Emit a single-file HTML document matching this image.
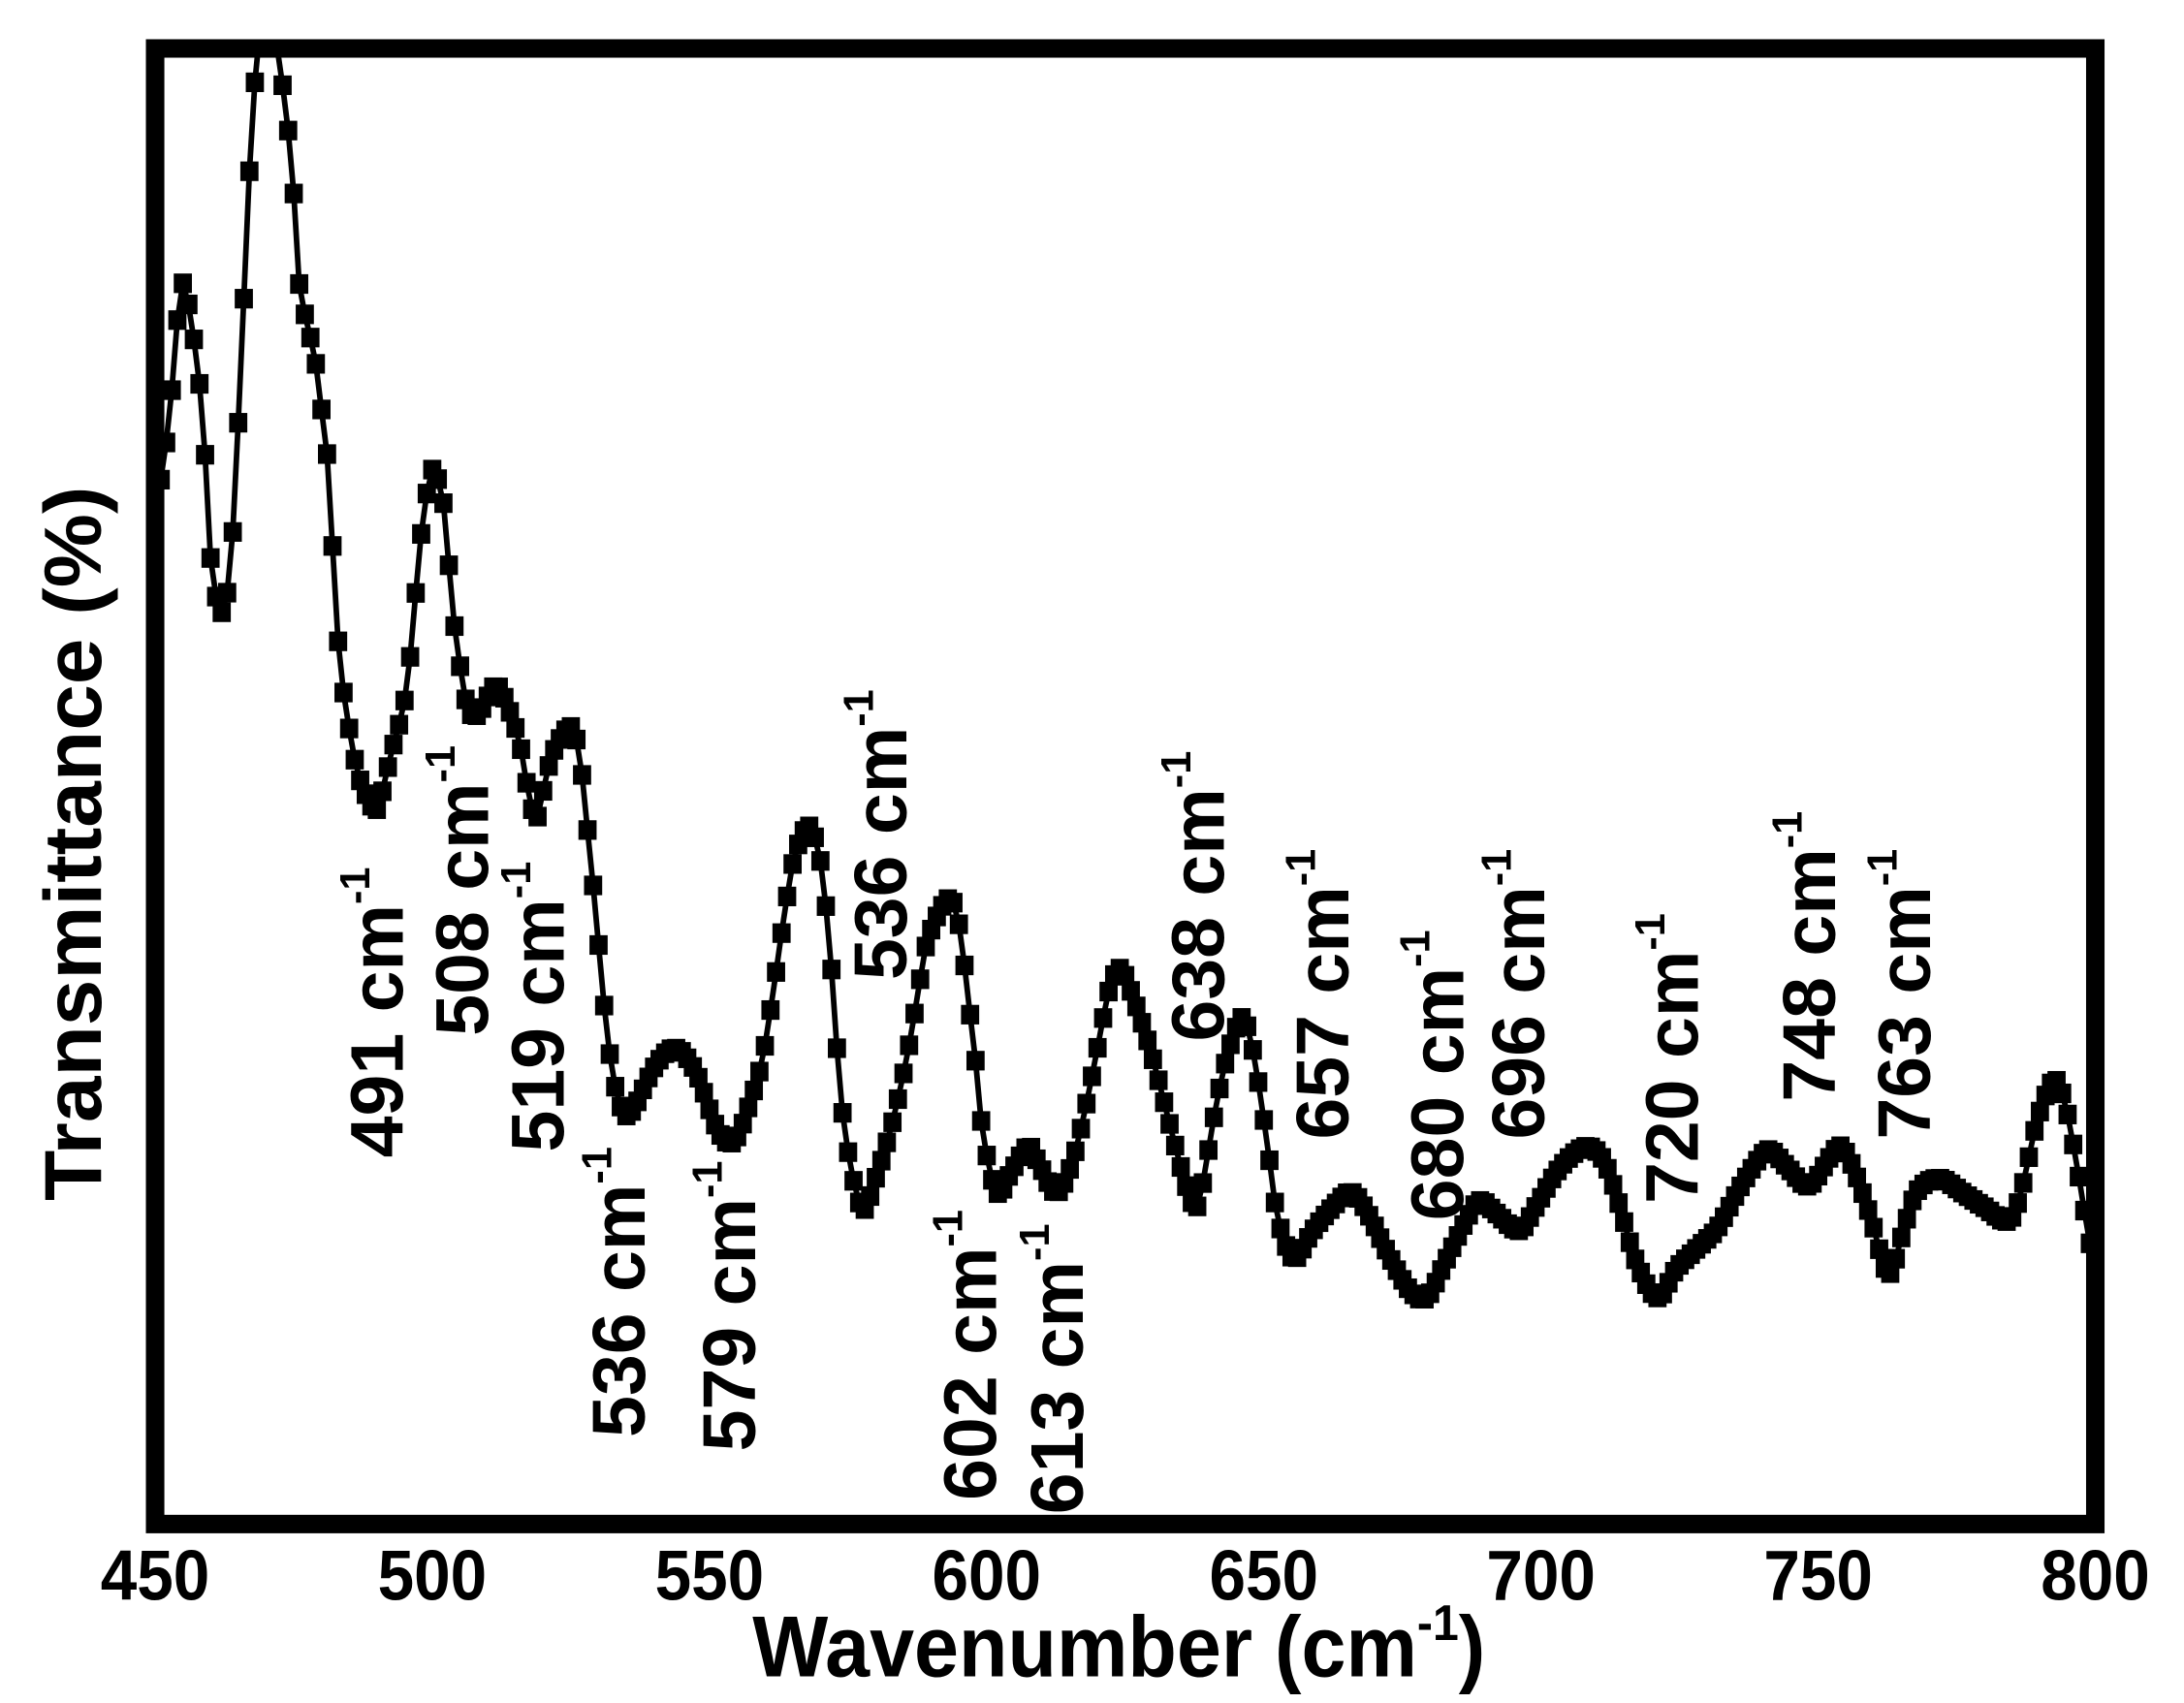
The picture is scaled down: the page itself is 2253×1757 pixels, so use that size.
<!DOCTYPE html>
<html><head><meta charset="utf-8"><style>
html,body{margin:0;padding:0;background:#fff;width:2253px;height:1757px;overflow:hidden;}
svg{display:block;}
text{font-family:"Liberation Sans",Arial,sans-serif;font-weight:bold;fill:#000;}
</style></head><body>
<svg id="s" width="2253" height="1757" viewBox="2.1 7.35 1561.3 1217.6" preserveAspectRatio="none" xmlns="http://www.w3.org/2000/svg">
<defs><clipPath id="c"><rect x="113" y="42" width="1387" height="1055"/></clipPath></defs>
<rect x="0" y="0" width="1600" height="1300" fill="#fff"/>
<g id="data" clip-path="url(#c)"></g>
<rect x="113" y="42" width="1387" height="1055" fill="none" stroke="#000" stroke-width="13.2"/>
<g font-size="50.5" text-anchor="middle">
<text x="113" y="1151" textLength="78" lengthAdjust="spacingAndGlyphs">450</text>
<text x="311.1" y="1151" textLength="78" lengthAdjust="spacingAndGlyphs">500</text>
<text x="509.3" y="1151" textLength="78" lengthAdjust="spacingAndGlyphs">550</text>
<text x="707.4" y="1151" textLength="78" lengthAdjust="spacingAndGlyphs">600</text>
<text x="905.6" y="1151" textLength="78" lengthAdjust="spacingAndGlyphs">650</text>
<text x="1103.7" y="1151" textLength="78" lengthAdjust="spacingAndGlyphs">700</text>
<text x="1301.9" y="1151" textLength="78" lengthAdjust="spacingAndGlyphs">750</text>
<text x="1500" y="1151" textLength="78" lengthAdjust="spacingAndGlyphs">800</text>
</g>
<text x="540" y="1206" font-size="61.7" textLength="524" lengthAdjust="spacingAndGlyphs">Wavenumber (cm<tspan font-size="36" dy="-26">-1</tspan><tspan dy="26">)</tspan></text>
<text transform="translate(74,866) rotate(-90)" font-size="58" textLength="511" lengthAdjust="spacingAndGlyphs">Transmittance (%)</text>
<g id="labels" font-size="53.4"></g>
</svg>
<script>
var NS="http://www.w3.org/2000/svg";
var K=[[113,385],[117,350],[120,330],[124,300],[126,265],[129,235],[133,210],[140,245],[146,295],[150,355],[153,410],[160,445],[166,420],[170,360],[174,275],[178,185],[182,97],[186,50],[193,-10],[200,40],[205,75],[211,130],[216,210],[222,240],[228,268],[233,310],[237,345],[241,420],[245,480],[252,530],[258,560],[266,580],[272,585],[282,545],[291,510],[296,470],[302,400],[308,355],[311,343],[318,360],[322,400],[327,455],[332,490],[337,515],[344,518],[351,505],[358,498],[368,520],[375,545],[380,575],[386,592],[393,560],[400,540],[410,527],[416,545],[420,580],[424,620],[428,660],[432,705],[436,745],[441,780],[448,803],[455,800],[470,770],[485,757],[500,775],[515,815],[527,823],[540,790],[548,760],[555,715],[563,660],[570,620],[580,598],[588,620],[593,660],[598,720],[603,790],[610,840],[619,872],[628,850],[640,810],[650,765],[658,720],[665,680],[680,650],[688,670],[694,720],[700,770],[705,820],[715,860],[725,845],[737,827],[745,840],[757,860],[768,840],[778,800],[787,755],[795,715],[803,700],[812,720],[825,760],[838,810],[850,855],[858,870],[865,835],[872,795],[880,760],[890,735],[897,755],[903,790],[910,840],[916,880],[927,907],[940,888],[955,870],[968,860],[980,875],[995,905],[1010,930],[1022,935],[1035,910],[1050,880],[1060,866],[1072,875],[1088,887],[1100,870],[1115,845],[1130,830],[1140,828],[1150,840],[1160,870],[1172,910],[1187,935],[1200,915],[1215,900],[1230,885],[1245,858],[1260,835],[1268,830],[1280,842],[1295,855],[1310,835],[1318,827],[1328,845],[1340,880],[1352,918],[1362,890],[1372,860],[1388,850],[1405,860],[1420,870],[1438,880],[1448,855],[1458,810],[1470,780],[1478,795],[1485,830],[1490,860],[1495,890],[1502,930]];
var dense=[];
for(var i=0;i<K.length-1;i++){
 var p0=K[Math.max(0,i-1)],p1=K[i],p2=K[i+1],p3=K[Math.min(K.length-1,i+2)];
 for(var t=0;t<1;t+=0.05){
  var t2=t*t,t3=t2*t;
  var f=function(a,b,c,d){return 0.5*((2*b)+(-a+c)*t+(2*a-5*b+4*c-d)*t2+(-a+3*b-3*c+d)*t3);};
  dense.push([f(p0[0],p1[0],p2[0],p3[0]),f(p0[1],p1[1],p2[1],p3[1])]);
 }
}
dense.push(K[K.length-1]);
function yAt(x){
 for(var i=0;i<dense.length-1;i++){
  var a=dense[i],b=dense[i+1];
  if((x>=a[0]&&x<=b[0])||(x<=a[0]&&x>=b[0])){
   if(b[0]==a[0])return a[1];
   return a[1]+(b[1]-a[1])*(x-a[0])/(b[0]-a[0]);
  }
 }
 return dense[dense.length-1][1];
}
var g=document.getElementById("data");
var pts=[];
for(var w=450;w<=800.01;w+=1){
 var x=113+(w-450)*3.963;
 pts.push([x,yAt(x)]);
}
var pl=document.createElementNS(NS,"polyline");
pl.setAttribute("points",pts.map(function(p){return p[0].toFixed(1)+","+p[1].toFixed(1);}).join(" "));
pl.setAttribute("fill","none");pl.setAttribute("stroke","#000");pl.setAttribute("stroke-width","4");
g.appendChild(pl);
pts.forEach(function(p){
 var r=document.createElementNS(NS,"rect");
 r.setAttribute("x",(p[0]-6.5).toFixed(1));r.setAttribute("y",(p[1]-7).toFixed(1));
 r.setAttribute("width","13");r.setAttribute("height","14");r.setAttribute("fill","#000");
 g.appendChild(r);
});
var L=[["491",290,835],["508",351,748],["519",405,831],["536",463,1035],["579",542,1045],["536",650,708],["602",714,1080],["613",776,1090],["638",877,752],["657",966,822],["680",1048,880],["696",1106,822],["720",1216,868],["748",1314,795],["763",1382,822]];
var lg=document.getElementById("labels");
L.forEach(function(l){
 var t=document.createElementNS(NS,"text");
 t.setAttribute("transform","translate("+l[1]+","+l[2]+") rotate(-90)");
 t.appendChild(document.createTextNode(l[0]+" cm"));
 var s=document.createElementNS(NS,"tspan");
 s.setAttribute("font-size","30");s.setAttribute("dy","-24");
 s.appendChild(document.createTextNode("-1"));
 t.appendChild(s);
 lg.appendChild(t);
});
</script>
</body></html>
